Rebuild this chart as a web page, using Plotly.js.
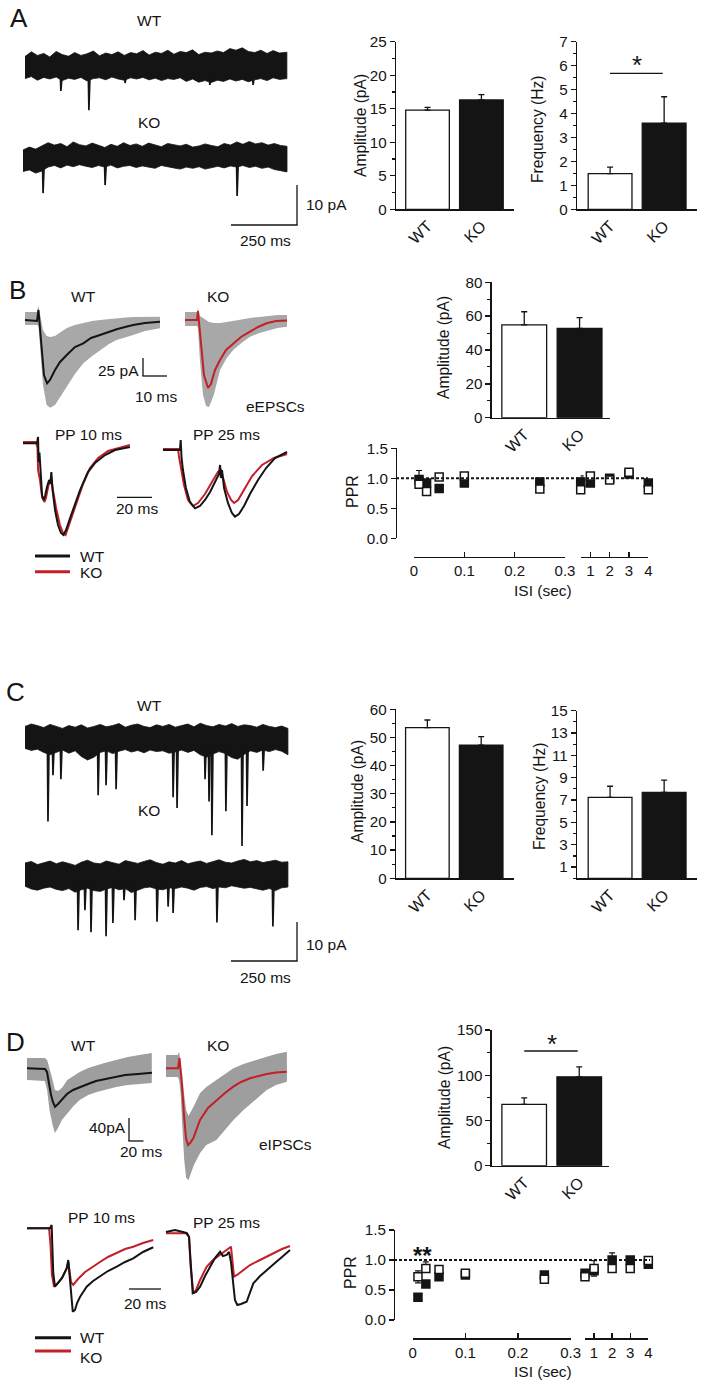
<!DOCTYPE html>
<html><head><meta charset="utf-8">
<script src="https://cdn.plot.ly/plotly-3.0.1.min.js"></script>
<style>html,body{margin:0;padding:0;background:#fff}#g{width:711px;height:1383px}</style>
</head><body><div id="g"></div>
<script>
// ================= DATA =================
const groups = ['WT', 'KO'];

// Panel A – sEPSC bars
const aAmpMean = [14.8, 16.3], aAmpSem = [0.4, 0.8];
const aFreqMean = [1.49, 3.6], aFreqSem = [0.27, 1.1];
// Panel B – eEPSC amplitude
const bAmpMean = [54.8, 52.8], bAmpSem = [7.8, 6.3];
// Panel C – sIPSC bars
const cAmpMean = [53.5, 47.3], cAmpSem = [2.7, 3.0];
const cFreqMean = [7.24, 7.69], cFreqSem = [1.0, 1.1];
// Panel D – eIPSC amplitude
const dAmpMean = [67.8, 98.2], dAmpSem = [7.2, 11.1];

// Paired-pulse ratio (ISI in s)
const isiShort = [0.01, 0.025, 0.05, 0.1, 0.25];
const isiLong = [0.5, 1, 2, 3, 4];
const bPprWt = [0.90, 0.78, 1.02, 1.04, 0.82, 0.81, 1.04, 0.97, 1.10, 0.81];
const bPprWtErrUp = [0.23, 0.04, 0.03, 0.03, 0.03, 0.04, 0.03, 0.03, 0.03, 0.03];
const bPprWtErrDn = [0.03, 0.04, 0.03, 0.03, 0.03, 0.04, 0.03, 0.03, 0.03, 0.03];
const bPprKo = [0.98, 0.92, 0.83, 0.92, 0.94, 0.94, 0.92, 1.00, 1.07, 0.92];
const bPprKoErrUp = [0.05, 0.05, 0.03, 0.03, 0.03, 0.10, 0.03, 0.03, 0.03, 0.03];
const bPprKoErrDn = [0.05, 0.05, 0.03, 0.03, 0.03, 0.04, 0.03, 0.03, 0.03, 0.03];
const dPprWt = [0.72, 0.86, 0.84, 0.78, 0.68, 0.72, 0.86, 0.86, 0.86, 0.99];
const dPprWtErrUp = [0.10, 0.11, 0.04, 0.03, 0.03, 0.03, 0.13, 0.04, 0.04, 0.03];
const dPprWtErrDn = [0.10, 0.06, 0.04, 0.03, 0.03, 0.03, 0.13, 0.04, 0.04, 0.03];
const dPprKo = [0.38, 0.60, 0.72, 0.75, 0.75, 0.78, 0.82, 1.00, 1.00, 0.93];
const dPprKoErrUp = [0.03, 0.04, 0.03, 0.03, 0.03, 0.03, 0.04, 0.12, 0.03, 0.03];
const dPprKoErrDn = [0.03, 0.04, 0.03, 0.03, 0.03, 0.03, 0.04, 0.05, 0.03, 0.03];

// Panel A raw traces (ms, pA relative to baseline)
const aWtNoiseT = [0,24,47,71,94,118,141,165,188,212,235,259,282,306,329,353,376,400,423,447,470,494,517,541,564,588,611,635,658,682,705,729,752,776,799,823,846,870,893,917,940,964,992];
const aWtUpper = [2.6,3.8,2.9,3.4,2.5,3.9,3.1,2.7,3.6,2.9,3.3,4.0,2.8,3.5,3.1,3.8,2.9,3.6,3.3,4.1,3.0,3.7,3.4,4.2,3.2,3.9,3.6,4.3,3.1,3.7,3.5,4.0,3.6,4.6,4.2,4.8,3.9,3.6,4.2,3.4,4.1,3.5,3.7];
const aWtLower = [-2.9,-2.4,-3.3,-2.6,-3.0,-2.5,-3.4,-2.8,-3.1,-2.6,-3.5,-2.9,-2.7,-3.2,-2.5,-3.0,-3.3,-2.7,-3.0,-2.6,-3.2,-2.8,-3.4,-2.9,-3.1,-2.7,-3.6,-3.0,-3.8,-3.4,-3.9,-3.3,-3.6,-3.0,-3.5,-3.1,-3.7,-3.2,-2.9,-3.4,-2.7,-3.1,-2.9];
const aWtEventT = [136, 242, 379, 700, 864];
const aWtEventAmp = [6.0, 10.8, 4.0, 4.5, 4.5];
const aKoNoiseT = [0,24,48,71,95,119,143,167,190,214,238,262,286,310,333,357,381,405,429,452,476,500,524,548,571,595,619,643,667,690,714,738,762,786,810,833,857,881,905,929,952,976,1000];
const aKoUpper = [1.9,2.6,2.1,2.8,3.7,3.1,3.5,2.7,3.9,3.2,2.9,3.6,3.1,2.5,3.3,2.8,3.7,3.0,3.4,2.8,3.6,3.1,2.7,3.5,3.2,2.9,3.3,2.6,2.9,3.4,3.0,2.7,3.5,3.1,3.9,3.3,4.0,3.4,3.7,3.1,3.5,3.0,2.8];
const aKoLower = [-3.5,-3.1,-3.9,-3.4,-2.4,-2.0,-2.6,-1.9,-2.3,-1.8,-2.2,-2.5,-2.0,-2.4,-1.9,-2.6,-2.2,-2.0,-2.5,-2.1,-2.4,-2.7,-2.0,-2.3,-2.6,-2.9,-2.4,-2.7,-2.3,-2.9,-2.5,-2.2,-2.6,-2.1,-2.4,-2.0,-2.5,-2.2,-2.7,-2.4,-3.0,-3.3,-3.6];
const aKoEventT = [76, 311, 811];
const aKoEventAmp = [8.9, 6.9, 9.6];

// Panel C raw traces
const cNoiseT = [0,24,47,71,95,119,142,166,190,213,237,261,285,308,332,356,380,403,427,451,474,498,522,546,569,593,617,640,664,688,712,735,759,783,806,830,854,878,901,925,949,972,996];
const cWtUpper = [2.9,3.5,3.1,2.6,3.4,2.8,2.4,3.1,2.7,3.3,2.5,2.9,3.4,2.8,3.1,3.6,2.7,3.2,3.5,2.9,2.6,3.3,2.9,3.4,2.7,3.1,3.5,2.8,3.7,3.1,2.8,3.4,3.0,3.6,2.9,3.3,3.1,2.7,3.4,2.9,2.6,3.0,2.4];
const cWtLower = [-2.6,-3.1,-2.8,-3.6,-4.2,-3.5,-3.0,-3.8,-3.2,-4.6,-5.5,-4.8,-3.6,-3.2,-3.9,-3.3,-2.9,-3.5,-3.1,-3.7,-3.0,-3.4,-3.2,-3.8,-3.5,-3.0,-3.6,-3.1,-4.2,-4.8,-4.0,-3.4,-3.9,-4.9,-5.3,-4.1,-3.2,-3.6,-3.0,-3.4,-2.9,-3.3,-4.2];
const cWtEventT = [87,106,136,277,307,345,561,576,682,697,708,761,822,841,902];
const cWtEventAmp = [20.9,9.3,10.3,14.3,11.8,12.8,14.8,17.5,10.3,15.9,24.3,18.3,27.0,17.0,8.2];
const cKoUpper = [3.0,3.4,2.6,3.1,3.5,2.8,3.3,2.9,2.4,3.2,3.7,3.0,2.8,3.5,3.1,2.7,3.6,3.2,2.9,3.4,3.8,3.1,2.7,3.3,3.0,3.6,2.8,3.2,3.5,2.9,3.4,3.8,3.2,3.0,3.5,3.9,3.3,3.6,3.1,3.4,3.7,3.2,3.3];
const cKoLower = [-2.8,-3.5,-3.8,-3.3,-3.0,-3.6,-3.9,-3.4,-4.3,-3.7,-3.3,-3.9,-4.1,-3.5,-3.1,-3.7,-3.4,-4.4,-3.8,-3.2,-3.0,-3.5,-3.7,-3.2,-3.4,-3.0,-3.3,-3.8,-3.1,-2.9,-3.4,-3.0,-3.2,-2.7,-2.9,-3.3,-3.1,-3.5,-3.8,-3.4,-3.9,-3.2,-3.0];
const cKoEventT = [201,227,250,307,333,375,417,500,542,561,727,939];
const cKoEventAmp = [13.8,8.8,14.3,15.3,12.0,6.3,11.3,11.7,7.9,9.5,11.9,12.9];

// Panel B evoked EPSCs (ms, pA)
const bWtT = [0,5,5.6,6.0,7.1,7.9,9.2,10.4,12.5,14.6,17.4,20.8,24.3,27.5,31.25,34.6,38.2,41.7,45.1,50,56.25];
const bWtI = [0,-1.4,13.9,-2.8,-55.6,-76.4,-87.9,-83.3,-69.4,-58.3,-48.6,-37.5,-32.4,-25,-20.8,-16.7,-12.9,-9.7,-6.9,-4.2,-2.4];
const bWtSweepT = [0,5,5.6,6.5,7.5,9,10.5,12.5,15,17.4,20.8,24.3,28,31.25,35,38.2,42,45.1,50,56.25];
const bWtSweepHi = [11.1,11.1,19.4,2.8,-13.9,-22.2,-23.6,-22.2,-16.7,-11.1,-6.9,-4.2,-1.4,0,1.4,2.8,3.5,4.2,4.6,4.6];
const bWtSweepLo = [-6.9,-6.9,-8.3,-41.7,-90.3,-118,-122,-118,-105.6,-92.6,-75,-60.1,-50,-41.7,-33.3,-27.8,-23.6,-20.8,-15.3,-11.5];
const bKoT = [0,5,5.4,5.8,6.7,7.9,9.6,10.8,12.5,14.6,17.1,20.1,23.3,27.1,30.4,34,37.9,42.5];
const bKoI = [0,0,12.5,-2.8,-34.7,-76.4,-94.4,-88.9,-69.4,-55.6,-41.7,-32.4,-23.6,-16.3,-9.7,-4.6,-1.4,-0.7];
const bKoSweepT = [0,5,5.4,6.2,7.5,8.8,10,12,14.6,17.4,20.1,23.5,27.1,31,35,38.5,42.5];
const bKoSweepHi = [11.1,11.1,16.7,5.6,2.8,0,-2.8,-4.2,-4.2,-2.8,-1.4,1.4,2.8,4.2,5.6,6.9,6.9];
const bKoSweepLo = [-8.3,-8.3,-11.1,-55.6,-104.2,-119.4,-120.8,-104.2,-69.4,-52.8,-41.7,-31.9,-23.2,-18.1,-13.9,-11.1,-9.3];
const bPp10WtT = [0,8,8.6,8.9,9.4,10,10.9,11.7,12.6,13.7,14.9,15.7,16.2,16.9,18.3,20,21.7,23.1,24.6,26.9,29.7,32.6,37.1,41.1,46.9,52.6,61.1];
const bPp10WtI = [0,0,8.8,-26,-12.9,-43.9,-71.8,-78.8,-73.2,-60.7,-50.9,-56.5,-39.9,-64.9,-92.6,-113.5,-124.6,-127.4,-120.4,-103.8,-84.3,-64.9,-39.9,-27.4,-16.3,-9.3,-5.1];
const bPp10KoT = [0,7.4,8.3,8.6,9.7,10.9,12.3,13.1,14.6,16,17.1,18.9,21.1,22.9,24.3,25.7,28,30.9,34.3,38.3,42.9,48.6,54.3,61.1];
const bPp10KoI = [1.8,1.8,-6.5,-37,-50.9,-74.6,-81.5,-75.9,-57.9,-48.2,-64.9,-89.9,-113.5,-124.6,-127.4,-117.6,-99.5,-78.6,-56.5,-34.3,-20.4,-10.7,-6.5,-2.4];
const bPp25WtT = [0,9.7,10.1,10.6,11.4,13.1,15.4,18.3,21.1,24,26.9,29.7,32,32.6,33.1,33.7,34.9,37.1,39.4,41.1,43.4,46.3,49.7,54.3,58.9,64,70.9];
const bPp25WtI = [0,0,13.9,-11.1,-27.8,-52.8,-72.2,-81,-77.8,-69.4,-58.3,-44.4,-33.3,-20.8,-38.9,-27.8,-52.8,-73.6,-87.5,-92.6,-88.9,-77.8,-61.1,-41.7,-25,-11.1,-2.8];
const bPp25KoT = [0,8.6,9.1,10.3,12,14.3,17.1,20,24,28,31.4,33.1,34.3,36.6,38.9,40.6,42.9,46.3,50.9,56.6,63.4,70.9];
const bPp25KoI = [1.4,1.4,-8.3,-27.8,-48.6,-69.4,-77.8,-73.6,-61.1,-44.4,-30.6,-27.8,-38.9,-58.3,-69.4,-73.6,-69.4,-55.6,-36.1,-20.8,-11.1,-5.6];

// Panel D evoked IPSCs (ms, pA)
const dWtT = [0,23.2,25.8,28.4,31,33.5,36.1,40,45.2,51.6,59.4,68.4,78.7,89,100.6,113.5,126.5,143.2,161.3];
const dWtI = [0,-1.2,-6.4,-29,-46.4,-58.6,-66.8,-62.1,-53.4,-44.7,-37.7,-32.5,-27.3,-22.1,-18.6,-15.1,-11.7,-9.9,-7.7];
const dWtSweepT = [0,23,26,29,33,36,40,45,52,60,68,79,90,100,115,130,145,161];
const dWtSweepHi = [17.9,17.9,14.4,0.5,-20.3,-37.9,-39.6,-34.4,-20.3,-13.4,-6.4,0.5,5.7,9.2,14.4,19.7,23.1,26.6];
const dWtSweepLo = [-20.3,-22.1,-37.9,-72.5,-98.6,-112.5,-103.8,-89.9,-77.7,-65.6,-55.1,-46.4,-41.2,-37.7,-32.5,-29,-27.3,-25.6];
const dKoT = [0,15.5,17.4,18.7,20.6,23.2,25.8,28.4,31,35.2,43.9,54.2,65.4,76.1,86.8,96.8,108.4,118.7,129.9,141.9,155.7];
const dKoI = [0,0,17.9,0.5,-29,-81.2,-121.2,-133.4,-129.9,-121.7,-89.9,-69,-55.1,-43,-32,-23.8,-17.4,-13.4,-9.9,-7.3,-5.9];
const dKoSweepT = [0,15,17,19,21,23.5,26,29,32,36,44,52,65,76,87,100,115,130,142,156];
const dKoSweepHi = [23.1,23.1,28.3,11,-11.8,-46.6,-72.7,-83.1,-76.2,-65.7,-43.1,-32.5,-20.3,-9.9,0,7.5,14.4,20.2,24.9,28.9];
const dKoSweepLo = [-15.1,-15.1,-20.3,-46.4,-98.6,-159.5,-190.8,-194.3,-185.6,-168.2,-147.3,-133.4,-124.7,-107.3,-89.9,-72.5,-55.1,-37.7,-29,-23.3];
const dPp10WtT = [0,14.4,15.4,15.9,16.4,17.5,19.4,21.9,24.8,25.8,26.6,27.3,28.6,30,31.3,33.1,37.3,41.3,45.6,50.6,56.1,61.3,66.4,72.5,78.9];
const dPp10WtI = [0,0,5.7,-37.7,-77.7,-101.6,-95.1,-86.4,-69.6,-55.1,-81.2,-107.3,-145,-142.1,-129.9,-119.5,-101.6,-91.7,-84.2,-74.3,-66.8,-58.6,-52.2,-41.2,-33];
const dPp10KoT = [0,13.8,14.7,15.6,16.9,19.4,21.9,24.8,25.8,26.6,27.5,28.9,31.9,36.3,40.6,45.6,50.6,56.1,61.3,66.4,72.5,78.9];
const dPp10KoI = [0,0,-29,-81.2,-101.6,-95.1,-86.4,-69.6,-58.6,-76,-93.4,-98.6,-88.2,-76,-67.3,-58.6,-49.9,-43,-36,-32,-25.6,-20.3];
const dPp25WtT = [0,5.6,10.6,13.1,14.4,15,15.9,16.7,18.8,21.3,24.4,27.5,30.6,33.8,35.6,37.9,39.4,40.6,42.1,43.1,44.6,46.9,50.4,52.5,54.6,58.8,62.9,68.1,72.5,77.5];
const dPp25WtI = [2.3,5.7,2.3,0.5,-6.4,-29,-72.5,-104.3,-102.1,-92.9,-74.3,-58.1,-43,-32,-39.5,-37.7,-32.5,-49.9,-87,-116,-124.7,-123,-119,-103.8,-87,-74.3,-63.8,-51.7,-41.2,-29];
const dPp25KoT = [0,12.5,14.4,15.3,17.1,18.8,21.3,25.4,29.4,33.8,37.5,40.6,41.6,42.5,44.4,47.5,52.5,57.5,62.9,68.1,72.5,77.5];
const dPp25KoI = [0,0,-6.4,-55.1,-104.3,-98.6,-81.2,-58.1,-46.4,-37.7,-30.8,-23.3,-49.9,-75.5,-72.5,-65.6,-55.1,-48.2,-40.7,-34.3,-27.3,-22.1];

// ================= BUILD =================
const W = 711, H = 1383;
const X = p => p / W, Y = p => 1 - p / H;
const INK = '#141414', RED = '#c21f26', GRAY = '#a8a8a8';
const FONT = 'Liberation Sans, Arial, Helvetica, sans-serif';
const LBL = 15.5, TICK = 15.2, TITLE = 15.6;
const data = [];
const layout = {
  width: W, height: H, margin: {l: 0, r: 0, t: 0, b: 0},
  paper_bgcolor: '#ffffff', plot_bgcolor: 'rgba(0,0,0,0)', showlegend: false,
  font: {family: FONT, color: INK, size: 14}, annotations: [], shapes: [], hovermode: false
};
let n = 0;
function newAxes(xa, ya) {
  n++; const s = n === 1 ? '' : String(n);
  layout['xaxis' + s] = Object.assign({anchor: 'y' + s, fixedrange: true, showgrid: false, zeroline: false}, xa);
  layout['yaxis' + s] = Object.assign({anchor: 'x' + s, fixedrange: true, showgrid: false, zeroline: false}, ya);
  return {xaxis: 'x' + s, yaxis: 'y' + s, ys: 'y' + s};
}
function traceBox(p) {
  return newAxes(
    {visible: false, domain: [X(p.l), X(p.r)], range: [(p.l - p.x0) / p.sx, (p.r - p.x0) / p.sx]},
    {visible: false, domain: [Y(p.b), Y(p.t)], range: [(p.y0 - p.b) / p.sy, (p.y0 - p.t) / p.sy]});
}
function band(ax, T, hi, lo, color, lw) {
  data.push({type: 'scatter', mode: 'lines', x: T.concat(T.slice().reverse()), y: hi.concat(lo.slice().reverse()),
    fill: 'toself', fillcolor: color, line: {color: color, width: lw},
    hoverinfo: 'skip', xaxis: ax.xaxis, yaxis: ax.yaxis});
}
function trace(ax, T, I, color, w) {
  data.push({type: 'scatter', mode: 'lines', x: T, y: I, line: {color: color, width: w}, hoverinfo: 'skip', xaxis: ax.xaxis, yaxis: ax.yaxis});
}
function events(ax, T, A, base) {
  const xs = [], ys = [];
  T.forEach((t, i) => { xs.push(t - 2, t, t + 4, null); ys.push(base, -A[i], base, null); });
  data.push({type: 'scatter', mode: 'lines', x: xs, y: ys, line: {color: INK, width: 1.7}, hoverinfo: 'skip', xaxis: ax.xaxis, yaxis: ax.yaxis});
}
function seg(x0, y0, x1, y1, color = INK, w = 1.3, dash = 'solid') {
  layout.shapes.push({type: 'line', xref: 'paper', yref: 'paper', x0: X(x0), y0: Y(y0), x1: X(x1), y1: Y(y1), line: {color, width: w, dash}});
}
function txt(t, x, y, size, o = {}) {
  layout.annotations.push(Object.assign({text: t, x: X(x), y: Y(y), xref: 'paper', yref: 'paper', showarrow: false,
    font: {size: size, color: INK, family: FONT}, xanchor: 'center', yanchor: 'middle'}, o));
}
const axLine = {showline: true, linecolor: INK, linewidth: 1.3};
function barChart(p, mean, sem) {
  const yTicks = p.tickvals ? {tickmode: 'array', tickvals: p.tickvals} : {dtick: p.dtick, tick0: 0};
  const minor = p.minorvals ? {tickmode: 'array', tickvals: p.minorvals} : {dtick: p.minor, tick0: 0};
  const ax = newAxes(
    Object.assign({domain: [X(p.axX), X(p.xEnd)], range: p.xr, type: 'category', ticks: '', tickangle: -45,
      tickfont: {size: 16, color: INK}}, axLine),
    Object.assign({domain: [Y(p.y0), Y(p.yTop)], range: [0, p.ymax], ticks: 'outside', ticklen: 5, tickwidth: 1.3, tickcolor: INK,
      tickfont: {size: TICK, color: INK},
      minor: Object.assign({ticks: 'outside', ticklen: 3, tickwidth: 1.1, tickcolor: INK, showgrid: false}, minor)}, yTicks, axLine));
  data.push({type: 'bar', x: groups, y: mean, width: [0.81, 0.81],
    marker: {color: ['#ffffff', INK], line: {color: INK, width: 1.3}},
    error_y: {type: 'data', symmetric: false, array: sem, arrayminus: [0, 0], color: INK, thickness: 1.3, width: 3},
    hoverinfo: 'skip', xaxis: ax.xaxis, yaxis: ax.yaxis});
  return ax;
}
function pprChart(p, wt, wtUp, wtDn, ko, koUp, koDn) {
  const yax = Object.assign({domain: [Y(p.y0), Y(p.yTop)], range: [0, 1.5], anchor: 'free', position: X(p.axX),
    tickmode: 'array', tickvals: [0, 0.5, 1, 1.5], ticktext: ['0.0', '0.5', '1.0', '1.5'],
    ticks: 'outside', ticklen: 5, tickwidth: 1.3, tickcolor: INK, tickfont: {size: TICK, color: INK}}, axLine);
  const xCommon = Object.assign({anchor: 'free', position: Y(p.xAxisY), ticks: 'inside', ticklen: 5, tickwidth: 1.3,
    tickcolor: INK, tickfont: {size: 15, color: INK}, tickmode: 'array'}, axLine);
  const a1 = newAxes(Object.assign({domain: [X(p.s1a), X(p.s1b)], range: [0, 0.3],
    tickvals: [0, 0.1, 0.2, 0.3], ticktext: ['0', '0.1', '0.2', '0.3']}, xCommon), yax);
  n++; const s = String(n);
  layout['xaxis' + s] = Object.assign({fixedrange: true, showgrid: false, zeroline: false, domain: [X(p.s2a), X(p.s2b)], range: [0.5, 4],
    tickvals: [0.5, 1, 2, 3, 4], ticktext: ['', '1', '2', '3', '4']}, xCommon);
  const a2 = {xaxis: 'x' + s, yaxis: a1.yaxis};
  layout.shapes.push({type: 'line', xref: 'paper', yref: a1.ys, x0: X(p.axX), x1: X(p.dashEnd), y0: 1, y1: 1,
    line: {color: INK, width: 2, dash: '3px,2px'}});
  const mk = (ax, xs, ys, up, dn, filled) => data.push({type: 'scatter', mode: 'markers', x: xs, y: ys, cliponaxis: false,
    error_y: {type: 'data', symmetric: false, array: up, arrayminus: dn, color: INK, thickness: 1.2, width: 3},
    marker: {symbol: 'square', size: 8, color: filled ? INK : '#ffffff', line: {color: INK, width: 1.5}},
    hoverinfo: 'skip', xaxis: ax.xaxis, yaxis: ax.yaxis});
  const k = isiShort.length;
  mk(a1, isiShort, ko.slice(0, k), koUp.slice(0, k), koDn.slice(0, k), true);
  mk(a2, isiLong, ko.slice(k), koUp.slice(k), koDn.slice(k), true);
  mk(a1, isiShort, wt.slice(0, k), wtUp.slice(0, k), wtDn.slice(0, k), false);
  mk(a2, isiLong, wt.slice(k), wtUp.slice(k), wtDn.slice(k), false);
}

// ---------- Panel A ----------
const scA = {sx: 0.264, sy: 4};
const axAwt = traceBox(Object.assign({x0: 25, y0: 67, l: 15, r: 295, t: 35, b: 125}, scA));
band(axAwt, aWtNoiseT, aWtUpper, aWtLower, INK, 0.8);
events(axAwt, aWtEventT, aWtEventAmp, -2.5);
const axAko = traceBox(Object.assign({x0: 23, y0: 157.5, l: 15, r: 295, t: 128, b: 210}, scA));
band(axAko, aKoNoiseT, aKoUpper, aKoLower, INK, 0.8);
events(axAko, aKoEventT, aKoEventAmp, -2);
txt('A', 19, 18, 26); txt('WT', 149, 20, LBL); txt('KO', 149, 123, LBL);
seg(297, 185, 297, 225); seg(231, 225, 297.6, 225);
txt('10 pA', 304, 205, LBL, {xanchor: 'left'}); txt('250 ms', 265, 241, LBL);

barChart({axX: 396, xEnd: 514, y0: 209.3, yTop: 41.7, ymax: 25, dtick: 5, minor: 2.5, xr: [-0.585, 1.605]}, aAmpMean, aAmpSem);
txt('Amplitude (pA)', 360, 126, TITLE, {textangle: -90});
barChart({axX: 577, xEnd: 697, y0: 209.3, yTop: 41.7, ymax: 7, dtick: 1, minor: 0.5, xr: [-0.612, 1.608]}, aFreqMean, aFreqSem);
txt('Frequency (Hz)', 537, 130, TITLE, {textangle: -90});
seg(610, 73.3, 662.7, 73.3); txt('*', 636.5, 65, 26);

// ---------- Panel B ----------
const scB = {sx: 2.4, sy: 0.72};
const axBwt = traceBox(Object.assign({x0: 25, y0: 320, l: 15, r: 172, t: 298, b: 415}, scB));
band(axBwt, bWtSweepT, bWtSweepHi, bWtSweepLo, GRAY, 0);
trace(axBwt, bWtT, bWtI, INK, 2);
const axBko = traceBox(Object.assign({x0: 185, y0: 320, l: 175, r: 295, t: 298, b: 415}, scB));
band(axBko, bKoSweepT, bKoSweepHi, bKoSweepLo, GRAY, 0);
trace(axBko, bKoT, bKoI, RED, 2);
const scBpp = {sx: 1.75, sy: 0.72};
const axBp1 = traceBox(Object.assign({x0: 23, y0: 443.3, l: 15, r: 140, t: 428, b: 545}, scBpp));
trace(axBp1, bPp10KoT, bPp10KoI, RED, 2);
trace(axBp1, bPp10WtT, bPp10WtI, INK, 2);
const axBp2 = traceBox(Object.assign({x0: 163, y0: 450, l: 155, r: 295, t: 428, b: 545}, scBpp));
trace(axBp2, bPp25KoT, bPp25KoI, RED, 2);
trace(axBp2, bPp25WtT, bPp25WtI, INK, 2);
txt('B', 17, 290, 26); txt('WT', 83, 297, LBL); txt('KO', 218, 297, LBL);
txt('25 pA', 141, 370, LBL, {xanchor: 'right'});
seg(143, 358, 143, 376); seg(142.4, 376, 167, 376);
txt('10 ms', 156, 397, LBL); txt('eEPSCs', 275, 407, LBL);
txt('PP 10 ms', 88, 435, LBL); txt('PP 25 ms', 226, 435, LBL);
seg(117, 497.3, 152, 497.3); txt('20 ms', 137, 509, LBL);
seg(35, 556, 70, 556, INK, 3); seg(35, 571.7, 70, 571.7, RED, 3);
txt('WT', 78, 556, LBL, {xanchor: 'left'}); txt('KO', 78, 572, LBL, {xanchor: 'left'});

barChart({axX: 491.7, xEnd: 610, y0: 417.7, yTop: 282.3, ymax: 80, dtick: 20, minor: 10, xr: [-0.588, 1.55]}, bAmpMean, bAmpSem);
txt('Amplitude (pA)', 444, 348, TITLE, {textangle: -90});
pprChart({axX: 396, y0: 538.3, yTop: 448.3, xAxisY: 556.7, s1a: 414, s1b: 565, s2a: 580.7, s2b: 648.3, dashEnd: 648},
  bPprWt, bPprWtErrUp, bPprWtErrDn, bPprKo, bPprKoErrUp, bPprKoErrDn);
txt('PPR', 352, 492, 16, {textangle: -90});
txt('ISI (sec)', 543, 590, LBL);

// ---------- Panel C ----------
const axCwt = traceBox(Object.assign({x0: 25, y0: 738, l: 15, r: 295, t: 712, b: 860}, scA));
band(axCwt, cNoiseT, cWtUpper, cWtLower, INK, 0.8);
events(axCwt, cWtEventT, cWtEventAmp, -2.5);
const axCko = traceBox(Object.assign({x0: 25, y0: 875, l: 15, r: 295, t: 848, b: 950}, scA));
band(axCko, cNoiseT, cKoUpper, cKoLower, INK, 0.8);
events(axCko, cKoEventT, cKoEventAmp, -2.5);
txt('C', 15, 692, 26); txt('WT', 149, 705, LBL); txt('KO', 149, 810, LBL);
seg(297, 922, 297, 961); seg(231, 961, 297.6, 961);
txt('10 pA', 304, 944, LBL, {xanchor: 'left'}); txt('250 ms', 265, 977, LBL);

barChart({axX: 396, xEnd: 514, y0: 878.3, yTop: 709.3, ymax: 60, dtick: 10, minor: 5, xr: [-0.583, 1.61]}, cAmpMean, cAmpSem);
txt('Amplitude (pA)', 357, 792, TITLE, {textangle: -90});
barChart({axX: 577, xEnd: 697, y0: 878.3, yTop: 710.7, ymax: 15, tickvals: [1, 3, 5, 7, 9, 11, 13, 15],
  minorvals: [0, 2, 4, 6, 8, 10, 12, 14], xr: [-0.612, 1.608]}, cFreqMean, cFreqSem);
txt('Frequency (Hz)', 539, 797, TITLE, {textangle: -90});

// ---------- Panel D ----------
const scD = {sx: 0.775, sy: 0.575};
const axDwt = traceBox(Object.assign({x0: 27, y0: 1068.3, l: 20, r: 160, t: 1040, b: 1145}, scD));
band(axDwt, dWtSweepT, dWtSweepHi, dWtSweepLo, '#9e9e9e', 0);
trace(axDwt, dWtT, dWtI, INK, 2);
const axDko = traceBox(Object.assign({x0: 166, y0: 1068.3, l: 160, r: 295, t: 1040, b: 1190}, scD));
band(axDko, dKoSweepT, dKoSweepHi, dKoSweepLo, '#9e9e9e', 0);
trace(axDko, dKoT, dKoI, RED, 2);
const scDpp = {sx: 1.6, sy: 0.575};
const axDp1 = traceBox(Object.assign({x0: 27, y0: 1228.3, l: 20, r: 162, t: 1212, b: 1322}, scDpp));
trace(axDp1, dPp10KoT, dPp10KoI, RED, 2);
trace(axDp1, dPp10WtT, dPp10WtI, INK, 2);
const axDp2 = traceBox(Object.assign({x0: 166, y0: 1233.3, l: 160, r: 295, t: 1212, b: 1322}, scDpp));
trace(axDp2, dPp25KoT, dPp25KoI, RED, 2);
trace(axDp2, dPp25WtT, dPp25WtI, INK, 2);
txt('D', 15, 1042, 26); txt('WT', 83, 1045, LBL); txt('KO', 218, 1045, LBL);
txt('40pA', 128, 1127, LBL, {xanchor: 'right'});
seg(129, 1118, 129, 1141); seg(128.4, 1141, 143.5, 1141);
txt('20 ms', 141, 1151, LBL); txt('eIPSCs', 285, 1144, LBL);
txt('PP 10 ms', 101, 1217, LBL); txt('PP 25 ms', 226, 1222, LBL);
seg(129, 1289, 161, 1289); txt('20 ms', 145, 1303, LBL);
seg(35, 1337.7, 71, 1337.7, INK, 3); seg(35, 1351, 71, 1351, RED, 3);
txt('WT', 78, 1337, LBL, {xanchor: 'left'}); txt('KO', 78, 1357, LBL, {xanchor: 'left'});

barChart({axX: 491.7, xEnd: 609.3, y0: 1165.7, yTop: 1030, ymax: 150, dtick: 50, minor: 25, xr: [-0.59, 1.546]}, dAmpMean, dAmpSem);
txt('Amplitude (pA)', 444, 1098, TITLE, {textangle: -90});
seg(524.3, 1051, 577.7, 1051); txt('*', 552, 1044, 26);
pprChart({axX: 394, y0: 1320, yTop: 1230, xAxisY: 1338.3, s1a: 412.7, s1b: 570.7, s2a: 585, s2b: 648.3, dashEnd: 650},
  dPprWt, dPprWtErrUp, dPprWtErrDn, dPprKo, dPprKoErrUp, dPprKoErrDn);
txt('PPR', 350, 1273, 16, {textangle: -90});
txt('ISI (sec)', 543, 1371, LBL);
txt('**', 423, 1255, 24, {font: {size: 24, color: INK, family: FONT, weight: 'bold'}});

Plotly.newPlot('g', data, layout, {staticPlot: true, displayModeBar: false});
</script>
</body></html>
